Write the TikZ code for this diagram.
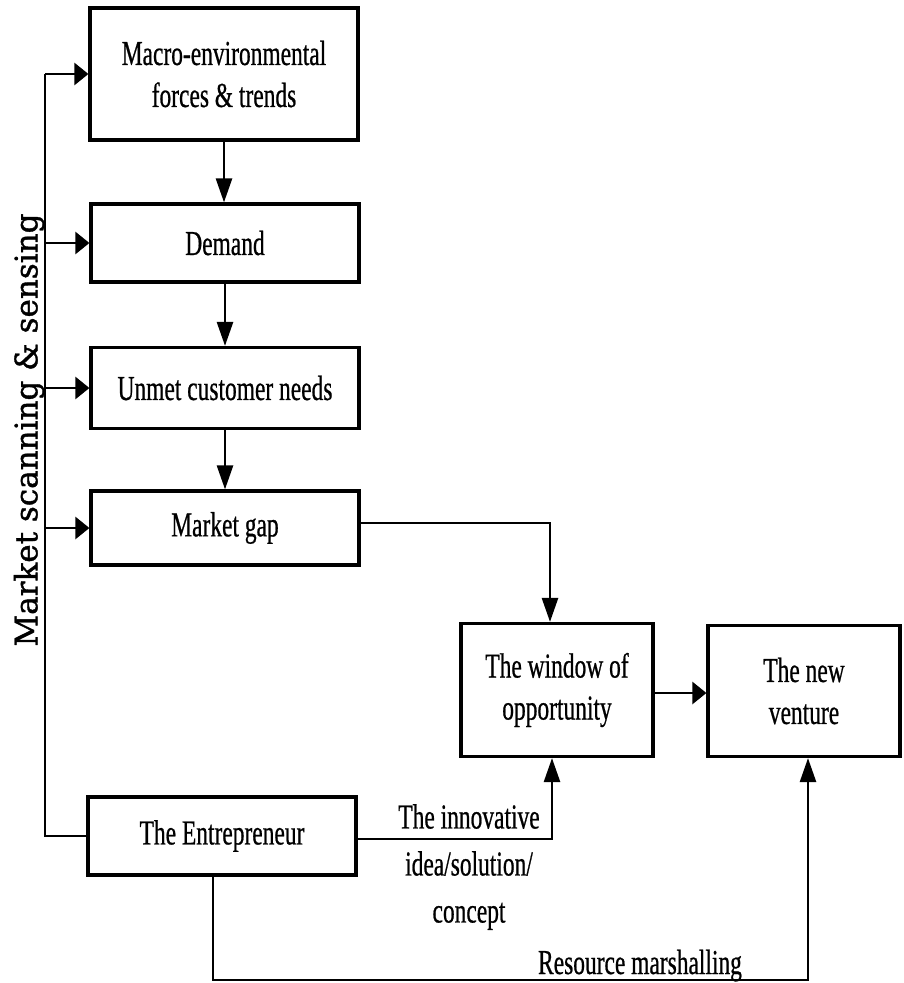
\documentclass[tikz,border=0pt]{standalone}
\usepackage{fontspec}
\setmainfont{Liberation Serif}[FakeStretch=0.67,FakeBold=0.6]
\newfontfamily\sidefont{DejaVu Serif}[FakeBold=1.2]
\usetikzlibrary{arrows.meta}
\begin{document}
\begin{tikzpicture}[x=1pt,y=-1pt,
  box/.style={draw, line width=3.2pt, inner sep=0pt, align=center, font=\fontsize{35}{42}\selectfont},
  conn/.style={line width=2.6pt},
  harr/.style={conn, -{Triangle[length=14pt,width=22pt]}},
  varr/.style={conn, -{Triangle[length=24pt,width=16pt]}},
  lbl/.style={font=\fontsize{35}{47}\selectfont, align=center, inner sep=0pt}]
\useasboundingbox (0,0) rectangle (904,983);
\node[box, minimum width=268pt, minimum height=132pt] (macro) at (224,74) {Macro-environmental\\forces \& trends};
\node[box, minimum width=268pt, minimum height=78pt] (dem) at (225,243) {Demand};
\node[box, minimum width=268pt, minimum height=81pt] (unmet) at (225,388) {Unmet customer needs};
\node[box, minimum width=268pt, minimum height=74pt] (gap) at (225,528) {Market gap};
\node[box, minimum width=192pt, minimum height=133pt] (win) at (557,690) {The window of\\opportunity};
\node[box, minimum width=192pt, minimum height=131pt] (nv) at (804,691) {The new\\venture};
\node[box, minimum width=268pt, minimum height=78pt] (ent) at (222,836) {The Entrepreneur};
\coordinate (bus) at (45,74);
\coordinate (busend) at (45,836);
\coordinate (rm) at (213,980);
\draw[conn] (bus) -- (busend) -- (ent.west);
\draw[harr] (bus) -- (macro.west);
\draw[harr] (bus |- dem.west) -- (dem.west);
\draw[harr] (bus |- unmet.west) -- (unmet.west);
\draw[harr] (bus |- gap.west) -- (gap.west);
\draw[varr] (macro.south) -- (macro.south |- dem.north);
\draw[varr] (dem.south) -- (unmet.north);
\draw[varr] (unmet.south) -- (gap.north);
\draw[varr] ([yshift=5pt]gap.east) -| ([xshift=-7pt]win.north);
\draw[varr] ([yshift=-3pt]ent.east) -| ([xshift=-5pt]win.south);
\draw[harr] ([yshift=-3pt]win.east) -- ([yshift=-3pt]win.east -| nv.west);
\draw[varr] ([xshift=-9pt]ent.south) -- (rm) -| ([xshift=4pt]nv.south);
\node[lbl, anchor=north] (inn) at (469,804) {The innovative\\idea/solution/\\concept};
\node[lbl, anchor=base] (res) at (640,974) {Resource marshalling};
\node[rotate=90, font=\sidefont\fontsize{31}{31}\selectfont, inner sep=0pt] (side) at (29,430) {Market scanning \& sensing};
\end{tikzpicture}
\end{document}
